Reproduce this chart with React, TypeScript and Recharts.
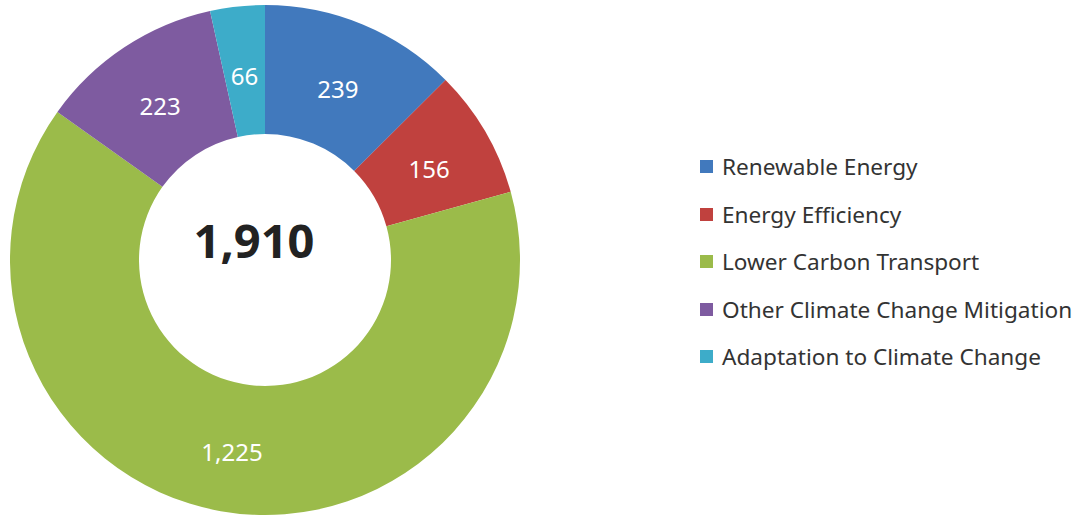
import React from "react";
import { PieChart, Pie, Cell, Legend } from "recharts";

const categories = [
  "Renewable Energy",
  "Energy Efficiency",
  "Lower Carbon Transport",
  "Other Climate Change Mitigation",
  "Adaptation to Climate Change",
];
const values = [239, 156, 1225, 223, 66];
const colors = ["#4179BD", "#C0413E", "#9BBB4A", "#7E5BA0", "#3DACC9"];
const totalLabel = "1,910";

const data = categories.map((name, i) => ({ name, value: values[i] }));

const RADIAN = Math.PI / 180;

function renderLabel(props: any) {
  const { cx, cy, midAngle, value } = props;
  const r = 190;
  const x = cx + r * Math.cos(-midAngle * RADIAN);
  const y = cy + r * Math.sin(-midAngle * RADIAN) + 4;
  return (
    <text
      x={x}
      y={y}
      fill="#ffffff"
      textAnchor="middle"
      dominantBaseline="central"
      fontSize={24}
      fontFamily="'Noto Sans', sans-serif"
    >
      {value.toLocaleString("en-US")}
    </text>
  );
}

function renderLegend() {
  return (
    <ul style={{ listStyle: "none", margin: 0, padding: 0 }}>
      {categories.map((name, i) => (
        <li
          key={name}
          style={{
            display: "flex",
            alignItems: "center",
            height: 47.5,
            fontSize: 22.6,
            color: "#333333",
            fontFamily: "'Noto Sans', sans-serif",
            whiteSpace: "nowrap",
          }}
        >
          <span
            style={{
              display: "inline-block",
              width: 13,
              height: 13,
              background: colors[i],
              marginRight: 9,
            }}
          />
          {name}
        </li>
      ))}
    </ul>
  );
}

export default function App() {
  return (
    <div style={{ position: "absolute", left: 0, top: 0, background: "#fff" }}>
      <PieChart
        width={1090}
        height={519}
        margin={{ top: 0, right: 0, bottom: 0, left: 0 }}
      >
        <Pie
          data={data}
          dataKey="value"
          nameKey="name"
          cx={265}
          cy={260}
          innerRadius={126}
          outerRadius={255}
          startAngle={90}
          endAngle={-270}
          stroke="none"
          label={renderLabel}
          labelLine={false}
          isAnimationActive={false}
        >
          {data.map((d, i) => (
            <Cell key={d.name} fill={colors[i]} />
          ))}
        </Pie>
        <text
          x={254}
          y={240}
          textAnchor="middle"
          dominantBaseline="central"
          fontSize={47}
          fontWeight="bold"
          fill="#222222"
          fontFamily="'Noto Sans', sans-serif"
        >
          {totalLabel}
        </text>
        <Legend
          layout="vertical"
          content={renderLegend}
          wrapperStyle={{ left: 700, top: 143, width: 390 }}
        />
      </PieChart>
    </div>
  );
}
